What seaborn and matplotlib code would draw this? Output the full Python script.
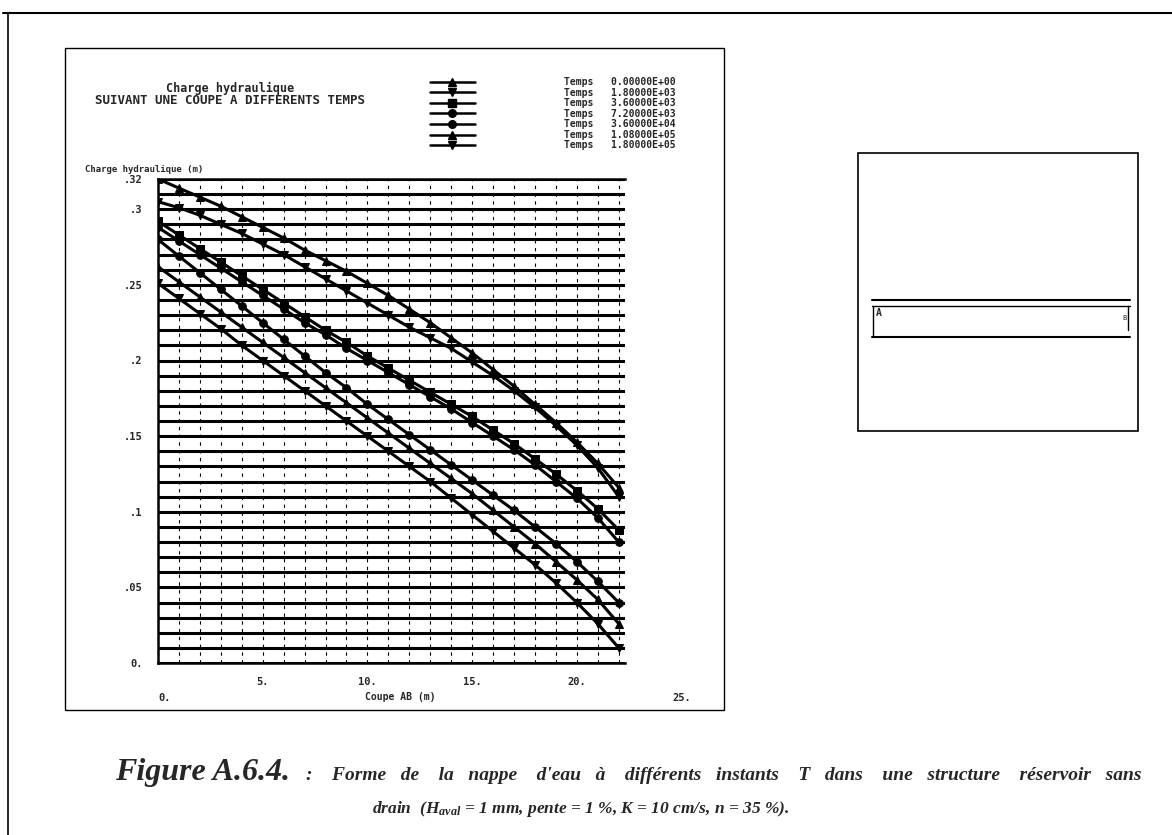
import numpy as np
import pandas as pd
import matplotlib.pyplot as plt
import seaborn as sns
from matplotlib.lines import Line2D
from matplotlib.patches import Rectangle
import matplotlib.transforms as mtransforms

# --- data (coupe AB, metres) ---
x_m = list(range(23))
temps = ["0.00000E+00", "1.80000E+03", "3.60000E+03", "7.20000E+03",
         "3.60000E+04", "1.08000E+05", "1.80000E+05"]
h_t1 = [.320, .314, .308, .302, .295, .288, .281, .273, .266, .259, .251, .243,
        .234, .225, .215, .205, .194, .183, .171, .159, .146, .132, .116]
h_t2 = [.305, .301, .296, .290, .284, .277, .270, .262, .254, .246, .238, .230,
        .222, .215, .208, .199, .190, .180, .169, .157, .144, .129, .110]
h_t3 = [.292, .283, .274, .265, .256, .247, .238, .229, .220, .212, .203, .195,
        .187, .179, .171, .163, .154, .145, .135, .125, .114, .102, .088]
h_t4 = [.288, .279, .270, .261, .252, .243, .234, .225, .217, .208, .200, .192,
        .184, .176, .168, .159, .150, .141, .131, .120, .109, .096, .080]
h_t5 = [.280, .269, .258, .247, .236, .225, .214, .203, .192, .182, .171, .161,
        .151, .141, .131, .121, .111, .101, .090, .079, .067, .054, .040]
h_t6 = [.262, .252, .242, .232, .222, .212, .202, .192, .182, .172, .162, .152,
        .142, .132, .122, .112, .101, .090, .079, .067, .055, .042, .026]
h_t7 = [.251, .241, .231, .221, .210, .200, .190, .180, .170, .160, .150, .140,
        .130, .120, .109, .098, .087, .076, .065, .053, .040, .026, .010]
curves = [h_t1, h_t2, h_t3, h_t4, h_t5, h_t6, h_t7]
markers = ["^", "v", "s", "o", "o", "^", "v"]

ytick_vals = [0, .05, .1, .15, .2, .25, .3, .32]
ytick_labels = ["0.", ".05", ".1", ".15", ".2", ".25", ".3", ".32"]
xtick_vals = [5, 10, 15, 20]
xtick_labels = ["5.", "10.", "15.", "20."]

sns.set_theme(style="white")
plt.rcParams["font.family"] = ["DejaVu Sans Mono", "DejaVu Sans"]
plt.rcParams["mathtext.fontset"] = "custom"
plt.rcParams["mathtext.rm"] = "Liberation Serif:bold:italic"
plt.rcParams["mathtext.it"] = "Liberation Serif:bold:italic"

rows = []
for t, h in zip(temps, curves):
    for xi, hi in zip(x_m, h):
        rows.append({"x": xi, "h": hi, "Temps": t})
df = pd.DataFrame(rows)

W, H = 1172, 835
fig = plt.figure(figsize=(11.72, 8.35), dpi=100)
ax = fig.add_axes([158 / W, 1 - 663 / H, (625 - 158) / W, (663 - 179) / H])

sns.lineplot(data=df, x="x", y="h", hue="Temps", style="Temps",
             markers=markers, dashes=False,
             palette={t: "black" for t in temps},
             markersize=5.5, linewidth=2.2, markeredgecolor="black",
             legend=False, ax=ax)

ax.set_xlim(0, 22.3)
ax.set_ylim(0, 0.32)
ax.set_yticks(ytick_vals)
ax.set_yticklabels(ytick_labels, fontsize=7.5, fontweight="bold")
ax.set_yticks(np.arange(0, 0.321, 0.01), minor=True)
ax.set_xticks(xtick_vals)
ax.set_xticklabels(xtick_labels, fontsize=7.5, fontweight="bold")
ax.set_xticks(np.arange(0, 22.3, 1), minor=True)
ax.tick_params(axis="y", which="major", length=5, width=1.2, color="black", pad=6)
ax.tick_params(axis="x", which="major", length=0, pad=10)
ax.tick_params(which="minor", length=0)
ax.grid(which="both", axis="y", color="black", linewidth=2.2)
ax.grid(which="both", axis="x", color="black", linewidth=0.8, linestyle=(0, (3, 4)))
ax.set_axisbelow(True)
for side in ["left", "top", "bottom"]:
    ax.spines[side].set_color("black")
    ax.spines[side].set_linewidth(1.8)
ax.spines["right"].set_visible(False)
ax.set_xlabel("")
ax.set_ylabel("")

# second row of x labels
trans = mtransforms.blended_transform_factory(ax.transData, ax.transAxes)
ax.text(0, -0.072, "0.", transform=trans, ha="left", va="center",
        fontsize=7.5, fontweight="bold", clip_on=False)
ax.text(25, -0.072, "25.", transform=trans, ha="center", va="center",
        fontsize=7.5, fontweight="bold", clip_on=False)
fig.text(400 / W, 1 - 697 / H, "Coupe AB (m)", ha="center", va="center",
         fontsize=7, fontweight="bold")
fig.text(85 / W, 1 - 170 / H, "Charge hydraulique (m)", ha="left", va="center",
         fontsize=6.5, fontweight="bold")

# titles
fig.text(230 / W, 1 - 88 / H, "Charge hydraulique", ha="center", va="center",
         fontsize=8.5, fontweight="bold")
fig.text(230 / W, 1 - 100 / H, "SUIVANT UNE COUPE A DIFFERENTS TEMPS",
         ha="center", va="center", fontsize=9, fontweight="bold")

# legend
handles = [Line2D([], [], color="black", marker=m, markersize=5.5, linewidth=1.8)
           for m in markers]
labels = [f"Temps   {t}" for t in temps]
fig.legend(handles, labels, loc="upper left",
           bbox_to_anchor=(430 / W, 1 - 77 / H), frameon=False,
           handlelength=4.6, handletextpad=9.2, labelspacing=0.06,
           borderpad=0, borderaxespad=0,
           prop={"family": "DejaVu Sans Mono", "weight": "bold", "size": 7})

# frames
fig.add_artist(Rectangle((65 / W, 1 - 710 / H), (724 - 65) / W, (710 - 48) / H,
                         transform=fig.transFigure, fill=False, lw=1.0, ec="black"))
fig.add_artist(Line2D([3 / W, 1], [1 - 13 / H, 1 - 13 / H], transform=fig.transFigure,
                      color="black", lw=1.5))
fig.add_artist(Line2D([8 / W, 8 / W], [0, 1 - 13 / H], transform=fig.transFigure,
                      color="black", lw=1.2))

# side panel (structure sketch)
fig.add_artist(Rectangle((858 / W, 1 - 431 / H), (1138 - 858) / W, (431 - 153) / H,
                         transform=fig.transFigure, fill=False, lw=1.2, ec="black"))
for yy, lw in [(300, 1.5), (306, 1.0), (337, 1.5)]:
    fig.add_artist(Line2D([872 / W, 1130 / W], [1 - yy / H, 1 - yy / H],
                          transform=fig.transFigure, color="black", lw=lw))
fig.add_artist(Line2D([873 / W, 873 / W], [1 - 306 / H, 1 - 337 / H],
                      transform=fig.transFigure, color="black", lw=1.0))
fig.add_artist(Line2D([1128 / W, 1128 / W], [1 - 306 / H, 1 - 330 / H],
                      transform=fig.transFigure, color="black", lw=1.0))
fig.text(876 / W, 1 - 313 / H, "A", ha="left", va="center", fontsize=7, fontweight="bold")
fig.text(1127 / W, 1 - 318 / H, "B", ha="right", va="center", fontsize=5)

# caption (first line justified in the original, hence the wide gaps)
cap_font = {"family": "Liberation Serif", "style": "italic", "weight": "bold"}
fig.text(115 / W, 1 - 780 / H, "Figure A.6.4.", ha="left", va="baseline",
         fontsize=23, **cap_font)
words = ": Forme de la nappe d'eau à différents instants T dans une structure réservoir sans".split(" ")
line1 = words[0]
for i, w in enumerate(words[1:]):
    line1 += ("    " if i % 2 == 0 else "   ") + w
fig.text(306 / W, 1 - 780 / H, line1,
         ha="left", va="baseline", fontsize=14, **cap_font)
fig.text(581 / W, 1 - 813 / H,
         r"drain  (H$_{aval}$ = 1 mm, pente = 1 %, K = 10 cm/s, n = 35 %).",
         ha="center", va="baseline", fontsize=12.5, **cap_font)

fig.savefig("out.png", dpi=100)
